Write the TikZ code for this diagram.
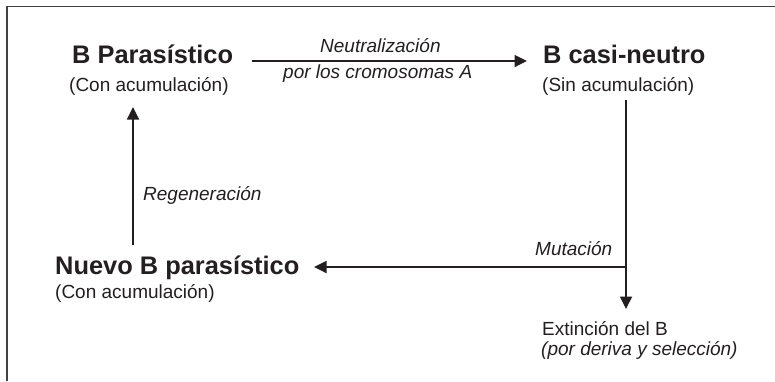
\documentclass[tikz,border=0pt]{standalone}
\usepackage{fontspec}
\setmainfont{Liberation Sans}
\usetikzlibrary{arrows.meta}
\definecolor{ink}{HTML}{231F20}
\begin{document}
\begin{tikzpicture}[x=1pt,y=-1pt,
  title/.style={font=\fontsize{25.4}{30}\selectfont\bfseries, text=ink, anchor=base west, inner sep=0pt},
  sub/.style={font=\fontsize{19}{22}\selectfont, text=ink, anchor=base west, inner sep=0pt},
  lab/.style={font=\fontsize{19}{22}\selectfont\itshape, text=ink, anchor=base west, inner sep=0pt},
  conn/.style={line width=1.8pt, draw=ink},
  arr/.style={conn, -{Triangle[length=12.5pt,width=12pt]}},
  frame/.style={line width=1.4pt, draw=ink!85}
  ]
\useasboundingbox (0,0) rectangle (775,381);
% frame (top and left only)
\draw[frame] (7,381) -- (7,6.5) -- (775,6.5);

% texts
\node[title] (bp) at (72,63) {B Parasístico};
\node[sub] (bpsub) at (69,91) {(Con acumulación)};
\node[title] (bcn) at (543,63) {B casi-neutro};
\node[sub] (bcnsub) at (542,91) {(Sin acumulación)};
\node[title] (nbp) at (55,274) {Nuevo B parasístico};
\node[sub] (nbpsub) at (55,298) {(Con acumulación)};
\node[sub] (ext) at (542,335) {Extinción del B};
\node[lab] (extsub) at (541,355) {(por deriva y selección)};

\node[lab] (neu1) at (320,52) {Neutralización};
\node[lab] (neu2) at (283,78) {por los cromosomas A};
\node[lab] (mut) at (535,255) {Mutación};
\node[lab] (reg) at (143,200) {Regeneración};

% connector end points
\coordinate (a1) at (252,61);
\coordinate (a2) at (527,61);
\coordinate (v1) at (626,100);
\coordinate (j) at (626,267);
\coordinate (v2) at (626,309);
\coordinate (h2) at (314,267);
\coordinate (r1) at (133,245);
\coordinate (r2) at (133,107);

\draw[arr] (a1) -- (a2);
\draw[conn] (v1) -- (j);
\draw[arr] (j) -- (v2);
\draw[arr] (j) -- (h2);
\draw[arr] (r1) -- (r2);
\end{tikzpicture}
\end{document}
